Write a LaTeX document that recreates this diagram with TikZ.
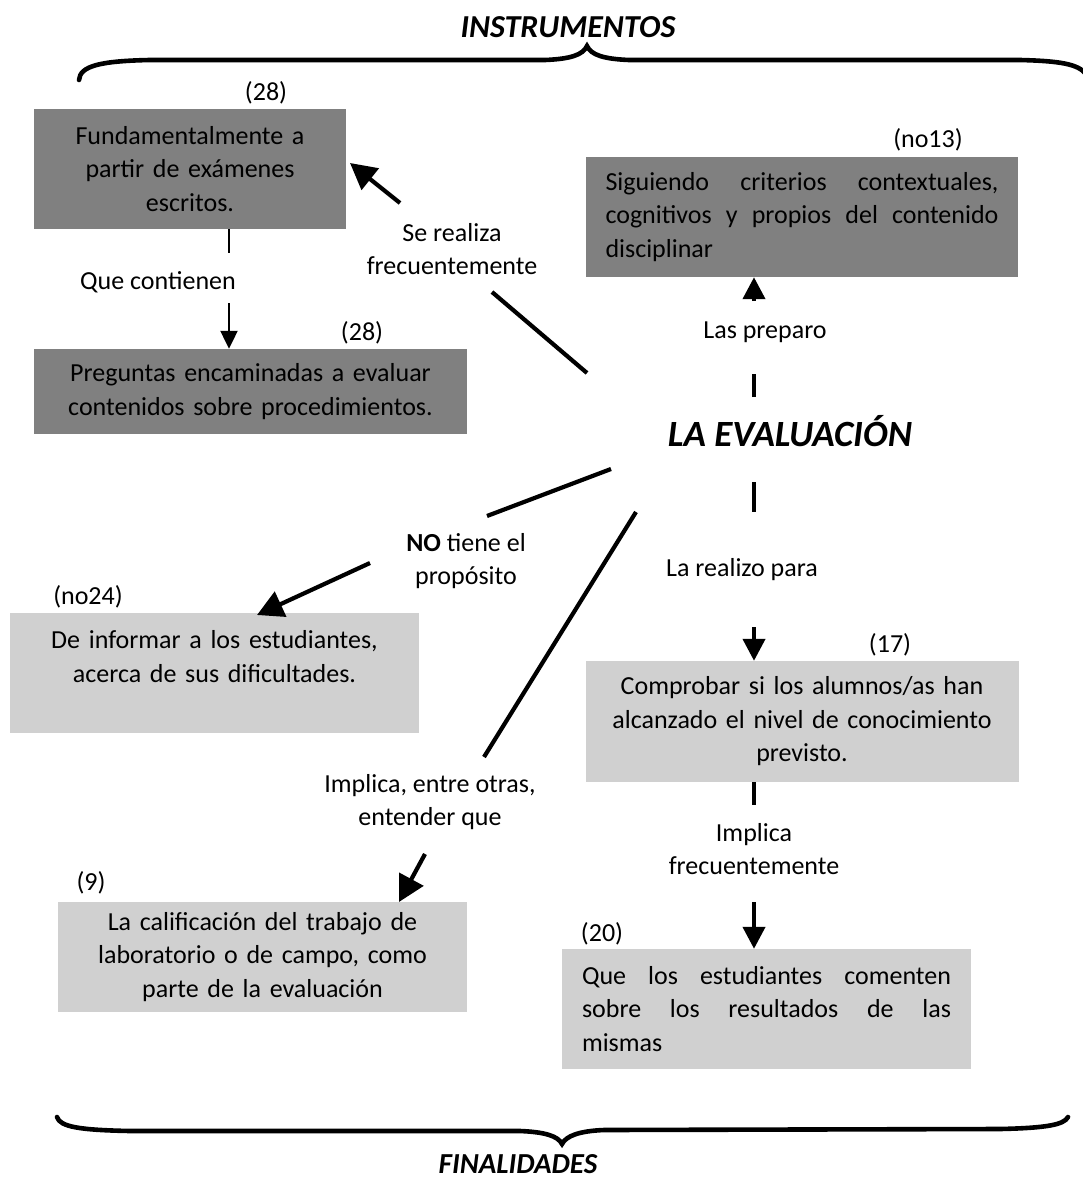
\documentclass[tikz,border=0pt]{standalone}
\usepackage{fontspec}
\setmainfont{Carlito}
\usetikzlibrary{arrows.meta}
\definecolor{gdark}{RGB}{128,128,128}
\definecolor{glight}{RGB}{208,208,208}
\newcommand{\jline}[2]{\leavevmode\hbox to #1{#2}}
\begin{document}
\begin{tikzpicture}[x=1pt,y=-1pt,
  txt/.style={font=\fontsize{26}{33.5}\selectfont, inner sep=0pt, align=center},
  titlef/.style={font=\fontsize{32}{36}\selectfont\bfseries\itshape, inner sep=0pt},
  boxd/.style={txt, fill=gdark},
  boxl/.style={txt, fill=glight},
  conn/.style={line width=4.2pt},
  thinconn/.style={line width=2.2pt},
  arr/.style={line width=4.2pt, -{Triangle[length=26pt,width=27pt]}},
  varr/.style={line width=4.2pt, -{Triangle[length=22pt,width=22pt]}},
  thinarr/.style={line width=2.2pt, -{Triangle[length=18pt,width=17pt]}},
  bracel/.style={line width=4.6pt, line cap=round}
]
\useasboundingbox (0,0) rectangle (1083,1180);

% boxes
\node[boxd, minimum width=312pt, minimum height=120pt, text width=292pt] (A) at (190,169)
  {Fundamentalmente a\\partir de exámenes\\escritos.};
\node[boxd, minimum width=433pt, minimum height=85pt, text width=420pt] (B) at (250.5,391.5)
  {Preguntas encaminadas a evaluar\\contenidos sobre procedimientos.};
\node[boxd, minimum width=432pt, minimum height=120pt, text width=393pt, align=left] (C) at (802,217)
  {\jline{393pt}{Siguiendo\hfill criterios\hfill contextuales,}\\\jline{393pt}{cognitivos\hfill y\hfill propios\hfill del\hfill contenido}\\disciplinar};
\node[boxl, minimum width=409pt, minimum height=120pt, text width=390pt] (D) at (214.5,673)
  {De informar a los estudiantes,\\acerca de sus dificultades.\\\mbox{}};
\node[boxl, minimum width=433pt, minimum height=121pt, text width=410pt] (E) at (802,721.5)
  {Comprobar si los alumnos/as han\\alcanzado el nivel de conocimiento\\previsto.};
\node[boxl, minimum width=409pt, minimum height=120pt, text width=369pt, align=left] (F) at (766.5,1009)
  {\jline{369pt}{Que\hfill los\hfill estudiantes\hfill comenten}\\\jline{369pt}{sobre\hfill los\hfill resultados\hfill de\hfill las}\\mismas};
\node[boxl, minimum width=409pt, minimum height=110pt, text width=390pt] (G) at (262.5,957)
  {La calificación del trabajo de\\laboratorio o de campo, como\\parte de la evaluación};

% numbers
\node[txt] (n28a) at (266,93) {(28)};
\node[txt] (n28b) at (362,333) {(28)};
\node[txt] (no13) at (928,140) {(no13)};
\node[txt] (no24) at (88,597) {(no24)};
\node[txt] (n17) at (890,645) {(17)};
\node[txt] (n9) at (91,883) {(9)};
\node[txt] (n20) at (602,934) {(20)};

% titles
\node[titlef] (instr) at (568,27) {INSTRUMENTOS};
\node[titlef, font=\fontsize{37}{42}\selectfont\bfseries\itshape] (ev) at (790,431) {LA EVALUACIÓN};
\node[titlef, font=\fontsize{29}{34}\selectfont\bfseries\itshape, anchor=base] (fin) at (518,1173) {FINALIDADES};

% connector labels
\node[txt] (lcont) at (158,282) {Que contienen};
\node[txt] (lse) at (452,249) {Se realiza\\frecuentemente};
\node[txt] (lprep) at (765,332) {Las preparo};
\node[txt] (lno) at (466,561) {\textbf{NO} tiene el\\propósito};
\node[txt] (limp) at (430,802) {Implica, entre otras,\\entender que};
\node[txt] (lreal) at (742,570) {La realizo para};
\node[txt] (limpf) at (754,849) {Implica\\frecuentemente};

% break points
\coordinate (s1) at (587,373); \coordinate (s2) at (492,292);
\coordinate (s3) at (400,203); \coordinate (s4) at (350,163);
\coordinate (q2) at (229,253); \coordinate (q3) at (229,303);
\coordinate (p1) at (754,397); \coordinate (p2) at (754,374); \coordinate (p3) at (754,301);
\coordinate (n1) at (611,469); \coordinate (n2) at (487,516);
\coordinate (n3) at (370,563); \coordinate (n4) at (257,615);
\coordinate (i1) at (636,512); \coordinate (i2) at (484,757);
\coordinate (i3) at (425,854); \coordinate (i4) at (399,902);
\coordinate (r1) at (754,482); \coordinate (r2) at (754,512); \coordinate (r3) at (754,627);
\coordinate (f1) at (754,782); \coordinate (f2) at (754,805); \coordinate (f3) at (754,902);

% connectors
\draw[conn] (s1) -- (s2);
\draw[arr] (s3) -- (s4);
\draw[thinconn] (q2 |- A.south) -- (q2);
\draw[thinarr] (q3) -- (q3 |- B.north);
\draw[conn] (p1) -- (p2);
\draw[varr] (p3) -- (p3 |- C.south);
\draw[conn] (n1) -- (n2);
\draw[arr] (n3) -- (n4);
\draw[conn] (i1) -- (i2);
\draw[arr] (i3) -- (i4);
\draw[conn] (r1) -- (r2);
\draw[varr] (r3) -- (r3 |- E.north);
\draw[conn] (f1 |- E.south) -- (f2);
\draw[varr] (f3) -- (f3 |- F.north);

% braces
\draw[bracel] (79,80) .. controls (80,66) and (100,61) .. (150,60) -- (545,60)
  .. controls (570,59) and (583,55) .. (587,46)
  .. controls (591,55) and (604,59) .. (629,60) -- (1020,60)
  .. controls (1060,61) and (1078,64) .. (1086,74);
\draw[bracel] (57,1117) .. controls (60,1127) and (80,1130) .. (130,1131) -- (520,1131)
  .. controls (545,1132) and (558,1136) .. (562,1144)
  .. controls (566,1136) and (579,1131) .. (604,1130) -- (1000,1129)
  .. controls (1045,1128) and (1064,1125) .. (1068,1117);
\end{tikzpicture}
\end{document}
